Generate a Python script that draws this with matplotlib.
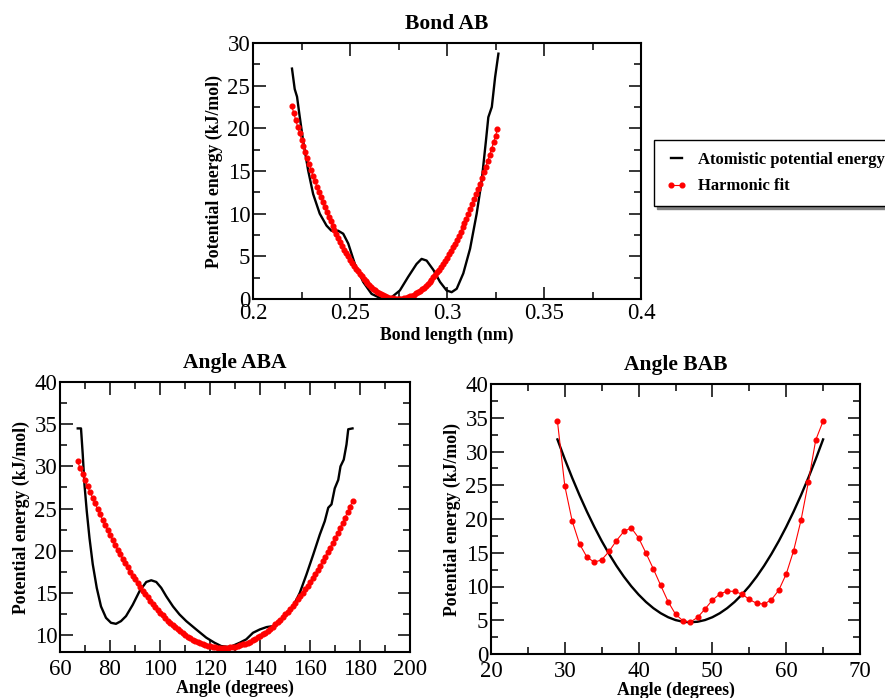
import matplotlib
matplotlib.use("Agg")
import matplotlib.pyplot as plt
from matplotlib.ticker import MultipleLocator

plt.rcParams['font.family'] = ['Liberation Serif', 'DejaVu Serif']

# ---- Bond AB ----
bond_x = [0.220 + 0.001 * i for i in range(107)]  # sampling grid of the fit
bond_fit = [22.61, 21.79, 20.99, 20.20, 19.43, 18.67, 17.92, 17.19, 16.48, 15.78,
            15.10, 14.43, 13.78, 13.14, 12.52, 11.91, 11.32, 10.74, 10.18, 9.63,
            9.10, 8.58, 8.08, 7.59, 7.12, 6.67, 6.22, 5.80, 5.39, 4.99,
            4.61, 4.24, 3.89, 3.56, 3.24, 2.93, 2.64, 2.37, 2.11, 1.86,
            1.63, 1.42, 1.22, 1.03, 0.87, 0.71, 0.57, 0.45, 0.34, 0.25,
            0.17, 0.10, 0.06, 0.02, 0.00, 0.00, 0.01, 0.04, 0.08, 0.14,
            0.21, 0.30, 0.40, 0.52, 0.65, 0.80, 0.96, 1.14, 1.34, 1.55,
            1.77, 2.01, 2.26, 2.53, 2.81, 3.11, 3.43, 3.76, 4.10, 4.46,
            4.84, 5.23, 5.63, 6.05, 6.49, 6.94, 7.40, 7.88, 8.38, 8.89,
            9.42, 9.96, 10.51, 11.09, 11.67, 12.27, 12.89, 13.52, 14.17, 14.83,
            15.51, 16.20, 16.91, 17.63, 18.37, 19.12, 19.89]
bond_atom_x = [0.2201, 0.2215, 0.2227, 0.2240, 0.2258, 0.2284, 0.2310, 0.2344, 0.2379,
               0.2404, 0.2439, 0.2465, 0.2491, 0.2525, 0.2568, 0.2611, 0.2663, 0.2714,
               0.2757, 0.2800, 0.2843, 0.2869, 0.2895, 0.2930, 0.2964, 0.2998, 0.3024,
               0.3050, 0.3084, 0.3119, 0.3153, 0.3179, 0.3201, 0.3213, 0.3231, 0.3248,
               0.3265]
bond_atom_y = [27.0, 24.6, 23.7, 21.5, 18.6, 15.1, 12.3, 10.0, 8.6,
               8.0, 8.0, 7.65, 6.5, 4.1, 2.0, 0.6, 0.04, 0.2,
               1.0, 2.6, 4.1, 4.7, 4.5, 3.4, 2.0, 1.0, 0.8,
               1.2, 3.0, 5.9, 10.0, 13.9, 18.6, 21.3, 22.5, 26.0,
               28.75]

# ---- Angle ABA ----
aba_x = list(range(67, 178))
aba_fit = [30.59, 29.84, 29.10, 28.38, 27.67, 26.97, 26.28, 25.61, 24.95, 24.30,
           23.66, 23.04, 22.43, 21.84, 21.26, 20.69, 20.13, 19.59, 19.06, 18.54,
           18.03, 17.54, 17.06, 16.60, 16.15, 15.71, 15.28, 14.87, 14.47, 14.08,
           13.71, 13.34, 13.00, 12.66, 12.34, 12.03, 11.73, 11.45, 11.18, 10.92,
           10.68, 10.45, 10.23, 10.02, 9.83, 9.65, 9.48, 9.33, 9.19, 9.06,
           8.95, 8.85, 8.76, 8.68, 8.62, 8.57, 8.53, 8.51, 8.50, 8.50,
           8.52, 8.55, 8.59, 8.64, 8.71, 8.79, 8.89, 8.99, 9.11, 9.24,
           9.39, 9.55, 9.72, 9.90, 10.10, 10.31, 10.54, 10.77, 11.02, 11.29,
           11.56, 11.85, 12.15, 12.47, 12.79, 13.13, 13.49, 13.85, 14.23, 14.63,
           15.03, 15.45, 15.88, 16.33, 16.78, 17.25, 17.74, 18.24, 18.74, 19.27,
           19.80, 20.35, 20.91, 21.49, 22.08, 22.68, 23.29, 23.92, 24.56, 25.21,
           25.87]
aba_atom_x = [67.1, 68.4, 69.1, 69.8, 70.7, 71.8, 73.1, 74.7, 76.4, 78.4, 80.4, 82.4,
              84.4, 86.4, 89.1, 91.8, 94.5, 96.5, 98.5, 100.5, 102.5, 105.2, 107.8,
              110.5, 114.5, 118.5, 121.8, 124.5, 127.9, 131.9, 134.5, 137.2, 139.9,
              142.6, 145.2, 147.9, 150.6, 153.2, 155.9, 158.6, 161.3, 163.9, 165.9,
              167.3, 168.6, 169.9, 171.3, 172.2, 173.5, 174.6, 175.3, 177.0]
aba_atom_y = [34.5, 34.5, 31.4, 27.8, 24.7, 21.5, 18.4, 15.6, 13.4, 12.05, 11.46, 11.34,
              11.66, 12.25, 13.6, 15.2, 16.3, 16.5, 16.3, 15.6, 14.6, 13.4, 12.45,
              11.66, 10.67, 9.7, 9.1, 8.7, 8.58, 9.1, 9.5, 10.28, 10.67,
              10.95, 11.07, 11.66, 12.45, 13.4, 15.0, 17.2, 19.55, 21.9, 23.5,
              25.1, 25.5, 27.4, 28.4, 30.0, 30.8, 32.6, 34.4, 34.5]

# ---- Angle BAB ----
bab_x = list(range(29, 66))
bab_atom = [34.5, 24.9, 19.7, 16.3, 14.35, 13.6, 13.95, 15.2, 16.8, 18.15,
            18.7, 17.2, 14.95, 12.6, 10.15, 7.75, 5.9, 4.93, 4.73, 5.43,
            6.66, 7.99, 8.88, 9.32, 9.27, 8.88, 8.09, 7.5, 7.4, 8.04,
            9.47, 11.84, 15.29, 19.78, 25.45, 31.7, 34.5]
bab_fit = [31.79, 28.86, 26.10, 23.51, 21.09, 18.83, 16.74, 14.82, 13.06, 11.47,
           10.05, 8.80, 7.71, 6.79, 6.04, 5.45, 5.03, 4.78, 4.70, 4.78,
           5.03, 5.45, 6.04, 6.79, 7.71, 8.80, 10.05, 11.47, 13.06, 14.82,
           16.74, 18.83, 21.09, 23.51, 26.10, 28.86, 31.79]

W, H = 885, 698
fig = plt.figure(figsize=(W / 100, H / 100), dpi=100)


def make_axes(left, top, right, bottom):
    return fig.add_axes([left / W, 1 - bottom / H, (right - left) / W, (bottom - top) / H])


def style(ax, title, xlabel, xlim, ylim, xmaj, xmin, ymaj, ymin, xpad=5, lpad=0):
    ax.set_xlim(*xlim)
    ax.set_ylim(*ylim)
    ax.xaxis.set_major_locator(MultipleLocator(xmaj))
    ax.xaxis.set_minor_locator(MultipleLocator(xmin))
    ax.yaxis.set_major_locator(MultipleLocator(ymaj))
    ax.yaxis.set_minor_locator(MultipleLocator(ymin))
    ax.tick_params(which='both', direction='in', top=True, right=True, width=1.1,
                   labelsize=16.5)
    ax.tick_params(axis='y', pad=2)
    ax.tick_params(axis='x', pad=xpad)
    ax.tick_params(which='major', length=9)
    ax.tick_params(which='minor', length=5)
    for s in ax.spines.values():
        s.set_linewidth(1.5)
    ax.set_title(title, fontsize=15.5, fontweight='bold', pad=10)
    ax.set_xlabel(xlabel, fontsize=12.8, fontweight='bold', labelpad=lpad)
    ax.set_ylabel('Potential energy (kJ/mol)', fontsize=12.8, fontweight='bold', labelpad=3)


ax1 = make_axes(253, 43, 641, 299)
l_atom, = ax1.plot(bond_atom_x, bond_atom_y, color='black', lw=1.7,
                   label='Atomistic potential energy')
l_fit, = ax1.plot(bond_x, bond_fit, color='red', lw=0.8, marker='o', ms=3.4,
                  label='Harmonic fit')
style(ax1, 'Bond AB', 'Bond length (nm)', (0.2, 0.4), (0, 30), 0.05, 0.025, 5, 2.5,
      xpad=3, lpad=2)
ax1.set_xticks([0.2, 0.25, 0.3, 0.35, 0.4])
ax1.set_xticklabels(['0.2', '0.25', '0.3', '0.35', '0.4'])

ax2 = make_axes(60, 382, 410, 652)
ax2.plot(aba_atom_x, aba_atom_y, color='black', lw=1.7)
ax2.plot(aba_x, aba_fit, color='red', lw=0.8, marker='o', ms=3.4)
style(ax2, 'Angle ABA', 'Angle (degrees)', (60, 200), (8, 40), 20, 10, 5, 2.5)

ax3 = make_axes(491, 384, 860, 654)
ax3.plot(bab_x, bab_fit, color='black', lw=1.7)
ax3.plot(bab_x, bab_atom, color='red', lw=0.8, marker='o', ms=3.4)
style(ax3, 'Angle BAB', 'Angle (degrees)', (20, 70), (0, 40), 10, 5, 5, 2.5)

leg = fig.legend(handles=[l_atom, l_fit], loc='upper left',
                 bbox_to_anchor=(654 / W, 1 - 209 / H, 240 / W, 69 / H), mode='expand',
                 prop={'weight': 'bold', 'size': 12}, frameon=True, fancybox=False,
                 shadow={'color': '0.5', 'alpha': 1}, numpoints=2, handlelength=1.3,
                 borderaxespad=0, borderpad=0.7, labelspacing=0.65, handletextpad=0.65)
leg.get_frame().set_edgecolor('black')
leg.get_frame().set_linewidth(1.0)

fig.savefig('out.png', dpi=100)
